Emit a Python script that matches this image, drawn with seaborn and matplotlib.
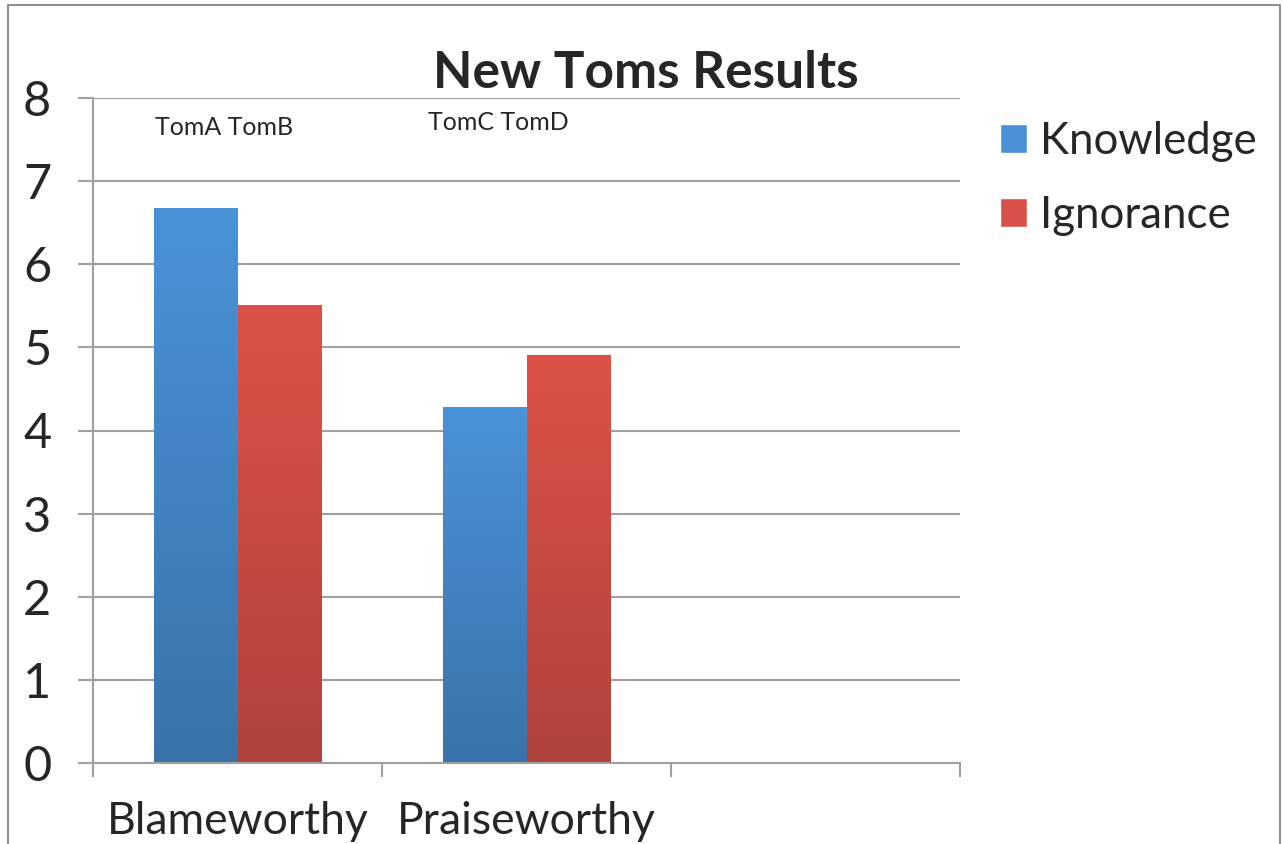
import matplotlib
matplotlib.use("Agg")
import matplotlib.pyplot as plt
from matplotlib.colors import LinearSegmentedColormap
import numpy as np
import pandas as pd
import seaborn as sns

# values
categories = ["Blameworthy", "Praiseworthy"]
knowledge = [6.68, 4.28]
ignorance = [5.51, 4.91]
notes = ["TomA TomB", "TomC TomD"]
note_x = [-0.285, 0.659]
note_y = [7.64, 7.70]

df = pd.DataFrame({
    "category": categories * 2,
    "series": ["Knowledge"] * 2 + ["Ignorance"] * 2,
    "value": knowledge + ignorance,
})

sns.set_style("white")
plt.rcParams["font.family"] = ["Lato", "DejaVu Sans"]

fig = plt.figure(figsize=(12.83, 8.44), dpi=100)
ax = fig.add_axes([93 / 1283, 1 - 763 / 844, 867 / 1283, 665 / 844])

palette = {"Knowledge": "#4a90d6", "Ignorance": "#d9514a"}
sns.barplot(data=df, x="category", y="value", hue="series", palette=palette,
            width=0.575, saturation=1, ax=ax, legend=True)

# excel style vertical gradient on each bar
grads = {
    "#4a90d6": LinearSegmentedColormap.from_list("b", ["#3a73aa", "#4a93d9"]),
    "#d9514a": LinearSegmentedColormap.from_list("r", ["#b0433b", "#dc5249"]),
}
for p in ax.patches:
    if p.get_height() == 0 or np.isnan(p.get_height()):
        continue
    x0, y0 = p.get_x(), p.get_y()
    w, h = p.get_width(), p.get_height()
    key = matplotlib.colors.to_hex(p.get_facecolor())
    cmap = grads.get(key)
    if cmap is None:
        continue
    g = np.linspace(0, 1, 256).reshape(-1, 1)
    im = ax.imshow(g, cmap=cmap, origin="lower", aspect="auto",
                   extent=[x0, x0 + w, y0, y0 + h], zorder=p.get_zorder() + 0.1)
    im.set_clip_path(p)
    p.set_edgecolor("none")

ax.set_xlim(-0.5, 2.5)
ax.set_ylim(0, 8)
ax.set_yticks(range(0, 9))
ax.yaxis.grid(True, color="#a0a0a0", linewidth=1.5)
ax.set_axisbelow(True)

# category boundaries as ticks, labels centred in slots
ax.set_xticks([-0.5, 0.5, 1.5, 2.5])
ax.set_xticklabels([])
ax.set_xticks([0, 1], minor=True)
ax.set_xticklabels(categories, minor=True, fontsize=32)
ax.tick_params(axis="x", which="major", length=10, width=1.5, color="#a0a0a0", direction="out")
ax.tick_params(axis="x", which="minor", length=0, pad=27)
ax.tick_params(axis="y", length=11, width=1.5, color="#a0a0a0", direction="out",
               labelsize=35, pad=19)
ax.tick_params(bottom=True, left=True)
for lab in ax.get_yticklabels():
    lab.set_va("center_baseline")

for s in ["top", "right"]:
    ax.spines[s].set_visible(False)
for s in ["left", "bottom"]:
    ax.spines[s].set_color("#a0a0a0")
    ax.spines[s].set_linewidth(1.5)
ax.set_xlabel("")
ax.set_ylabel("")

for t, x, y in zip(notes, note_x, note_y):
    ax.text(x, y, t, fontsize=18, va="center", ha="left")

fig.text(0.503, 1 - 73 / 844, "New Toms Results", fontsize=37, fontweight="bold",
         ha="center", va="center")

ax.legend(loc="upper left", bbox_to_anchor=(1000 / 1283, 1 - 121 / 844),
          bbox_transform=fig.transFigure, frameon=False, fontsize=31.5,
          handlelength=0.62, handleheight=0.62, handletextpad=0.3, labelspacing=0.75,
          borderpad=0, borderaxespad=0)

# outer frame of the chart area
fig.add_artist(plt.Line2D([8 / 1283, 8 / 1283, 1280 / 1283, 1280 / 1283],
                          [0, 1 - 5 / 844, 1 - 5 / 844, 0],
                          transform=fig.transFigure, color="#909090", linewidth=1.5))

fig.savefig("out.png", dpi=100)
